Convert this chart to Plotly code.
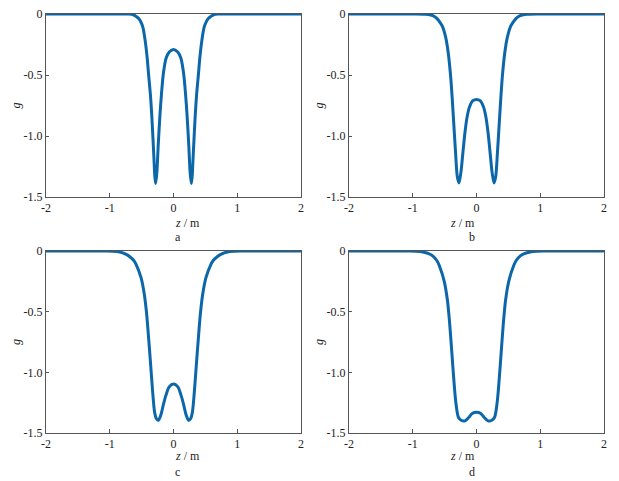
import plotly.graph_objects as go
from plotly.subplots import make_subplots

# ---- data (z in m, g dimensionless) ----
z_a = [-2.0, -1.5, -1.0, -0.7, -0.63, -0.585, -0.55, -0.517, -0.48, -0.444, -0.413, -0.39,
       -0.361, -0.34, -0.324, -0.308, -0.293, -0.28, -0.261, -0.24, -0.214, -0.188, -0.157,
       -0.115, -0.063, 0.0, 0.063, 0.115, 0.157, 0.188, 0.214, 0.24, 0.261, 0.28, 0.293,
       0.308, 0.324, 0.34, 0.361, 0.39, 0.413, 0.444, 0.48, 0.517, 0.55, 0.585, 0.63, 0.7,
       1.0, 1.5, 2.0]
g_a = [0.0, 0.0, 0.0, -0.001, -0.006, -0.02, -0.035, -0.06, -0.11, -0.22, -0.36, -0.5,
       -0.67, -0.84, -1.0, -1.17, -1.33, -1.39, -1.3, -1.08, -0.84, -0.65, -0.48,
       -0.36, -0.31, -0.29, -0.31, -0.36, -0.48, -0.65, -0.84, -1.08, -1.3, -1.39, -1.33,
       -1.17, -1.0, -0.84, -0.67, -0.5, -0.36, -0.22, -0.11, -0.06, -0.035, -0.02, -0.006, -0.001,
       0.0, 0.0, 0.0]

z_b = [-2.0, -1.5, -1.0, -0.8, -0.72, -0.66, -0.615, -0.57, -0.536, -0.484, -0.443, -0.406,
       -0.38, -0.354, -0.328, -0.302, -0.275, -0.245, -0.214, -0.182, -0.146, -0.109, -0.057,
       0.0, 0.057, 0.109, 0.146, 0.182, 0.214, 0.245, 0.275, 0.302, 0.328, 0.354, 0.38,
       0.406, 0.443, 0.484, 0.536, 0.57, 0.615, 0.66, 0.72, 0.8, 1.0, 1.5, 2.0]
g_b = [0.0, 0.0, 0.0, -0.002, -0.008, -0.02, -0.04, -0.07, -0.1, -0.19, -0.32, -0.51,
       -0.7, -0.92, -1.14, -1.33, -1.385, -1.3, -1.14, -0.975, -0.84, -0.76, -0.71,
       -0.7, -0.71, -0.76, -0.84, -0.975, -1.14, -1.3, -1.385, -1.33, -1.14, -0.92, -0.7,
       -0.51, -0.32, -0.19, -0.1, -0.07, -0.04, -0.02, -0.008, -0.002, 0.0, 0.0, 0.0]

z_c = [-2.0, -1.5, -1.05, -0.95, -0.847, -0.75, -0.69, -0.62, -0.587, -0.509, -0.457, -0.421,
       -0.39, -0.358, -0.327, -0.296, -0.27, -0.236, -0.197, -0.161, -0.119, -0.068, 0.0,
       0.068, 0.119, 0.161, 0.197, 0.236, 0.27, 0.296, 0.327, 0.358, 0.39, 0.421, 0.457,
       0.509, 0.587, 0.62, 0.69, 0.75, 0.847, 0.95, 1.05, 1.5, 2.0]
g_c = [0.0, 0.0, 0.0, -0.002, -0.008, -0.025, -0.045, -0.08, -0.11, -0.22, -0.36, -0.52,
       -0.72, -0.94, -1.16, -1.33, -1.38, -1.395, -1.35, -1.27, -1.19, -1.12, -1.097,
       -1.12, -1.19, -1.27, -1.35, -1.395, -1.38, -1.33, -1.16, -0.94, -0.72, -0.52, -0.36,
       -0.22, -0.11, -0.08, -0.045, -0.025, -0.008, -0.002, 0.0, 0.0, 0.0]

z_d = [-2.0, -1.5, -1.05, -0.95, -0.842, -0.75, -0.687, -0.62, -0.584, -0.506, -0.455, -0.419,
       -0.388, -0.357, -0.326, -0.284, -0.24, -0.18, -0.119, -0.067, 0.0, 0.067, 0.119,
       0.18, 0.24, 0.284, 0.326, 0.357, 0.388, 0.419, 0.455, 0.506, 0.584, 0.62, 0.687,
       0.75, 0.842, 0.95, 1.05, 1.5, 2.0]
g_d = [0.0, 0.0, 0.0, -0.002, -0.008, -0.022, -0.04, -0.08, -0.12, -0.25, -0.41, -0.61,
       -0.83, -1.05, -1.24, -1.37, -1.395, -1.4, -1.37, -1.34, -1.33, -1.34, -1.37,
       -1.4, -1.395, -1.37, -1.24, -1.05, -0.83, -0.61, -0.41, -0.25, -0.12, -0.08, -0.04,
       -0.022, -0.008, -0.002, 0.0, 0.0, 0.0]

panel_labels = ["a", "b", "c", "d"]
x_tickvals = [-2, -1, 0, 1, 2]
x_ticktext = ["-2", "-1", "0", "1", "2"]
y_tickvals = [0, -0.5, -1.0, -1.5]
y_ticktext = ["0", "-0.5", "-1.0", "-1.5"]

LINE_COLOR = "#0b67a9"
FONT = "Liberation Serif"

fig = make_subplots(rows=2, cols=2)

series = [(z_a, g_a), (z_b, g_b), (z_c, g_c), (z_d, g_d)]
for i, (zs, gs) in enumerate(series):
    fig.add_trace(
        go.Scatter(
            x=zs, y=gs, mode="lines",
            line=dict(color=LINE_COLOR, width=3, shape="spline", smoothing=0.8),
            showlegend=False, hoverinfo="skip",
        ),
        row=i // 2 + 1, col=i % 2 + 1,
    )

# panel domains (pixels -> paper)
W, H = 619, 481
x_doms = [(46 / W, 301 / W), (349 / W, 604 / W)]
y_doms = [(1 - 197 / H, 1 - 14 / H), (1 - 433 / H, 1 - 251 / H)]

for i in range(4):
    r, c = i // 2, i % 2
    n = "" if i == 0 else str(i + 1)
    fig.layout["xaxis" + n].update(
        domain=x_doms[c], range=[-2, 2], automargin=False,
        tickvals=x_tickvals, ticktext=x_ticktext,
        ticks="inside", ticklen=4, tickcolor="#555",
        showline=True, mirror=True, linecolor="#555", linewidth=1,
        showgrid=False, zeroline=False,
    )
    fig.layout["yaxis" + n].update(
        domain=y_doms[r], range=[-1.5, 0], automargin=False,
        tickvals=y_tickvals, ticktext=y_ticktext,
        ticks="inside", ticklen=3, tickcolor="#555",
        showline=True, mirror=True, linecolor="#555", linewidth=1,
        showgrid=False, zeroline=False,
        title=dict(text="<i>g</i>", standoff=0, font=dict(size=12)),
    )

# x-axis titles and panel letters below each subplot
title_y = [223, 223, 456, 456]
letter_y = [237, 237, 472, 472]
for i, lab in enumerate(panel_labels):
    c = i % 2
    xc = (x_doms[c][0] + x_doms[c][1]) / 2
    fig.add_annotation(
        x=xc, y=1 - title_y[i] / H, xref="paper", yref="paper",
        text="<i>z</i> / m", showarrow=False,
        font=dict(size=12, color="#222"), yanchor="middle",
    )
    fig.add_annotation(
        x=xc, y=1 - letter_y[i] / H, xref="paper", yref="paper",
        text=lab, showarrow=False,
        font=dict(size=12, color="#222"), yanchor="middle",
    )

fig.update_layout(
    width=W, height=H,
    margin=dict(l=0, r=0, t=0, b=0),
    plot_bgcolor="white", paper_bgcolor="white",
    font=dict(family=FONT, size=12, color="#222"),
)

fig.write_html("out.html", config={"displayModeBar": False},
               post_script="document.body.style.margin='0';")
